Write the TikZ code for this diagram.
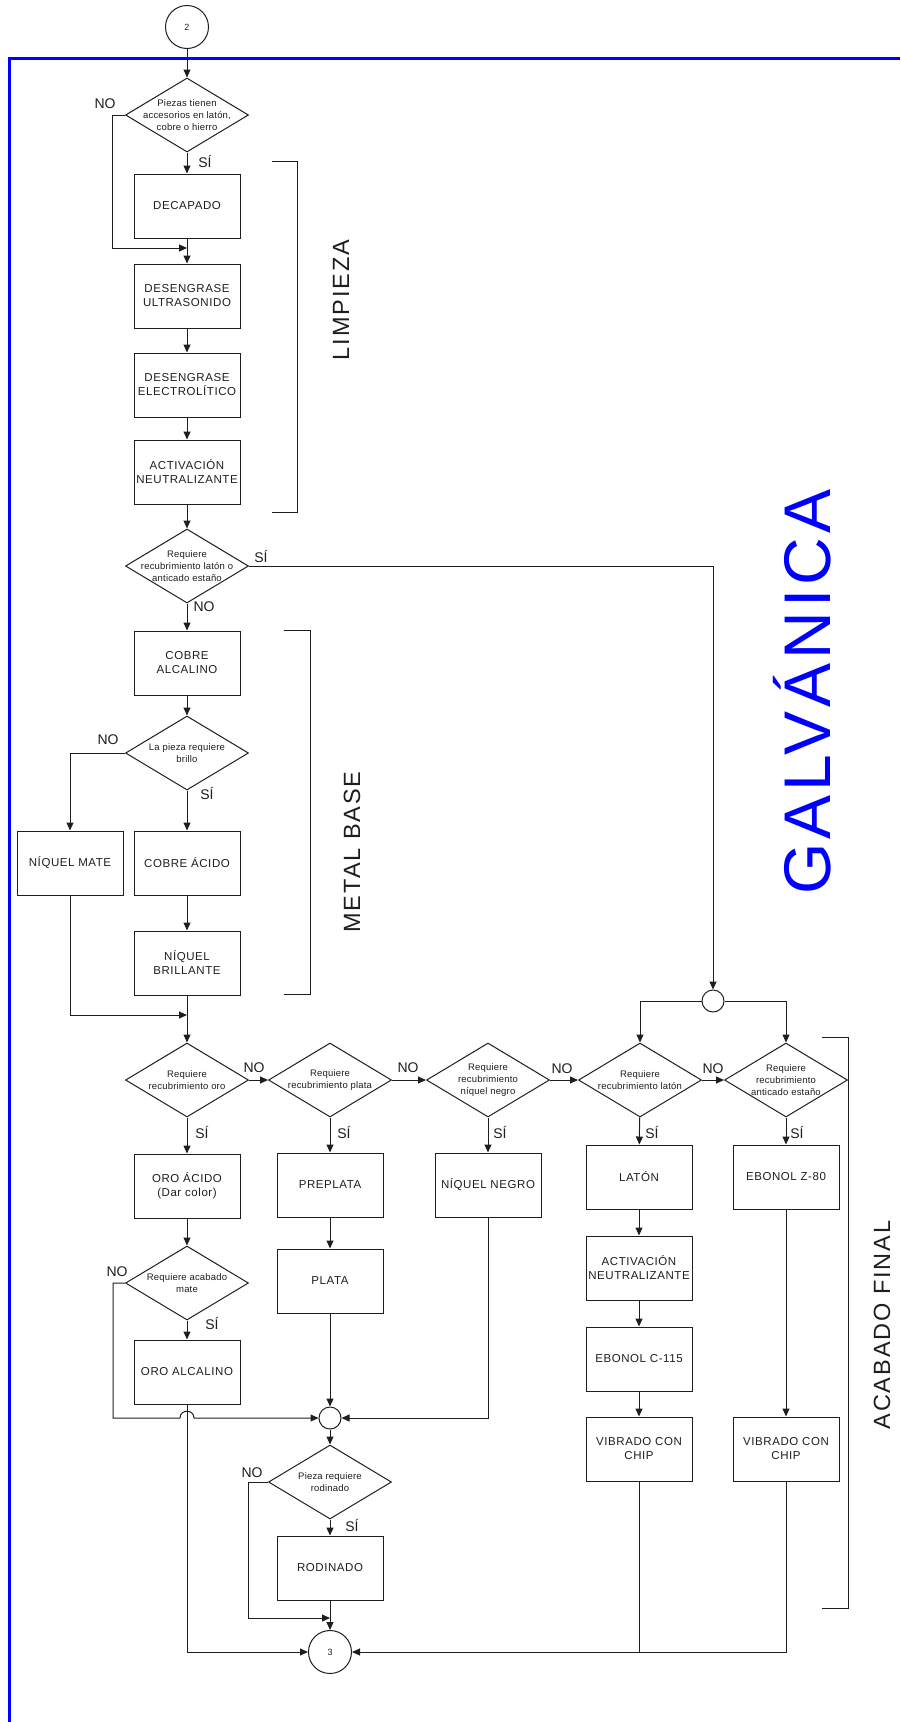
\documentclass[tikz,border=0pt]{standalone}
\usepackage{fontspec}
\setmainfont{Liberation Sans}
\newfontfamily\spc[LetterSpace=5]{Liberation Sans}
\newfontfamily\spd[LetterSpace=2]{Liberation Sans}
\newfontfamily\spt[LetterSpace=8]{Liberation Sans}
\newfontfamily\spg[LetterSpace=6]{Liberation Sans}
\usetikzlibrary{shapes.geometric,arrows.meta}
\definecolor{frameblue}{RGB}{0,0,255}
\definecolor{ink}{RGB}{30,30,30}
\begin{document}
\begin{tikzpicture}[x=1pt,y=-1pt,
  box/.style={draw=ink, line width=1pt, rectangle, minimum width=106pt, minimum height=64pt, inner sep=1pt, align=center, text=ink, font={\spc\fontsize{11.5}{14}\selectfont}},
  dia/.style={diamond, draw=ink, line width=1pt, minimum width=123pt, minimum height=74pt, inner sep=0pt},
  dtxt/.style={align=center, inner sep=0pt, text=ink, font={\spd\fontsize{9.5}{12}\selectfont}},
  lab/.style={inner sep=0pt, text=ink, font={\fontsize{14}{16}\selectfont}},
  conn/.style={circle, draw=ink, line width=1pt, minimum size=43pt, inner sep=0pt, text=ink, font={\fontsize{9}{10}\selectfont}},
  merge/.style={circle, draw=ink, line width=1pt, minimum size=22pt, inner sep=0pt},
  arr/.style={draw=ink, line width=1pt, -{Triangle[length=8pt,width=7pt]}},
  ln/.style={draw=ink, line width=1pt},
  sect/.style={rotate=90, inner sep=0pt, text=ink, font={\spt\fontsize{23.5}{26}\selectfont}},
  big/.style={rotate=90, inner sep=0pt, text=frameblue, font={\spg\fontsize{66}{70}\selectfont}}
]
\useasboundingbox (0,0) rectangle (900,1722);
% frame
\draw[frameblue, line width=3pt] (9,1722) -- (9,58) -- (900,58);
\node[big] (galv) at (802,692) {GALVÁNICA};

% nodes
\node[conn] (c2) at (187,27) {2};
\node[dia] (d1) at (187,115) {};
\node[dtxt] (d1t) at (d1) {Piezas tienen\\accesorios en latón,\\cobre o hierro};
\node[box] (dec) at (187,206) {DECAPADO};
\node[box] (deu) at (187,296) {DESENGRASE\\ULTRASONIDO};
\node[box] (dee) at (187,385) {DESENGRASE\\ELECTROLÍTICO};
\node[box] (act) at (187,472) {ACTIVACIÓN\\NEUTRALIZANTE};
\node[dia] (d2) at (187,566) {};
\node[dtxt] (d2t) at (d2) {Requiere\\recubrimiento latón o\\anticado estaño};
\node[box] (cal) at (187,663) {COBRE\\ALCALINO};
\node[dia] (d3) at (187,753) {};
\node[dtxt] (d3t) at (d3) {La pieza requiere\\brillo};
\node[box] (nm) at (70,863) {NÍQUEL MATE};
\node[box] (ca) at (187,863) {COBRE ÁCIDO};
\node[box] (nb) at (187,963) {NÍQUEL\\BRILLANTE};

\node[dia] (d4) at (187,1080) {};
\node[dtxt] (d4t) at (d4) {Requiere\\recubrimiento oro};
\node[dia] (d5) at (330,1080) {};
\node[dtxt] (d5t) at (d5) {Requiere\\recubrimiento plata};
\node[dia] (d6) at (488,1080) {};
\node[dtxt] (d6t) at (d6) {Requiere\\recubrimiento\\níquel negro};
\node[dia] (d9) at (640,1080) {};
\node[dtxt] (d9t) at (d9) {Requiere\\recubrimiento latón};
\node[dia] (d10) at (786,1080) {};
\node[dtxt] (d10t) at (d10) {Requiere\\recubrimiento\\anticado estaño};
\node[merge] (mc1) at (713,1001) {};

\node[box] (oa) at (187,1186) {ORO ÁCIDO\\(Dar color)};
\node[box] (pp) at (330,1185) {PREPLATA};
\node[box] (nn) at (488,1185) {NÍQUEL NEGRO};
\node[box] (lat) at (639,1177) {LATÓN};
\node[box] (ez) at (786,1177) {EBONOL Z-80};
\node[dia] (d7) at (187,1283) {};
\node[dtxt] (d7t) at (d7) {Requiere acabado\\mate};
\node[box] (pl) at (330,1281) {PLATA};
\node[box] (an2) at (639,1268) {ACTIVACIÓN\\NEUTRALIZANTE};
\node[box] (eb) at (639,1359) {EBONOL C-115};
\node[box] (ora) at (187,1372) {ORO ALCALINO};
\node[merge] (mc2) at (330,1418) {};
\node[box] (v1) at (639,1449) {VIBRADO CON\\CHIP};
\node[box] (v2) at (786,1449) {VIBRADO CON\\CHIP};
\node[dia] (d8) at (330,1482) {};
\node[dtxt] (d8t) at (d8) {Pieza requiere\\rodinado};
\node[box] (rod) at (330,1568) {RODINADO};
\node[conn] (c3) at (330,1652) {3};

% labels
\node[lab] (l1n) at (105,104) {NO};
\node[lab] (l1s) at (205,161) {SÍ};
\node[lab] (l2s) at (261,556) {SÍ};
\node[lab] (l2n) at (204,607) {NO};
\node[lab] (l3n) at (108,740) {NO};
\node[lab] (l3s) at (207,793) {SÍ};
\node[lab] (l4n) at (254,1068) {NO};
\node[lab] (l4s) at (202,1132) {SÍ};
\node[lab] (l5n) at (408,1068) {NO};
\node[lab] (l5s) at (344,1132) {SÍ};
\node[lab] (l6n) at (562,1069) {NO};
\node[lab] (l6s) at (500,1132) {SÍ};
\node[lab] (l9n) at (713,1069) {NO};
\node[lab] (l9s) at (652,1132) {SÍ};
\node[lab] (l10s) at (797,1132) {SÍ};
\node[lab] (l7n) at (117,1272) {NO};
\node[lab] (l7s) at (212,1323) {SÍ};
\node[lab] (l8n) at (252,1473) {NO};
\node[lab] (l8s) at (352,1525) {SÍ};

% section brackets and titles
\draw[ln] (272,161) -- (297,161) -- (297,512) -- (272,512);
\node[sect] (limp) at (341,300) {LIMPIEZA};
\draw[ln] (284,630) -- (310,630) -- (310,994) -- (284,994);
\node[sect] (mbase) at (352,852) {METAL BASE};
\draw[ln] (822,1037) -- (848,1037) -- (848,1608) -- (822,1608);
\node[sect] (acab) at (882,1325) {ACABADO FINAL};

% junction coordinates
\coordinate (j1) at (187,248);
\coordinate (j2) at (187,1015);
\coordinate (j3) at (330,1618);

% connectors
\draw[arr] (c2) -- (d1);
\draw[arr] (d1) -- (dec);
\draw[arr] (d1.west) -- (112,115) |- (j1);
\draw[arr] (dec) -- (deu);
\draw[arr] (deu) -- (dee);
\draw[arr] (dee) -- (act);
\draw[arr] (act) -- (d2);
\draw[arr] (d2.east) -| (mc1.north);
\draw[arr] (d2) -- (cal);
\draw[arr] (cal) -- (d3);
\draw[arr] (d3.west) -| (nm.north);
\draw[arr] (d3) -- (ca);
\draw[arr] (ca) -- (nb);
\draw[arr] (nm.south) |- (j2);
\draw[arr] (nb) -- (d4);
\draw[arr] (d4.east) -- (d5.west);
\draw[arr] (d5.east) -- (d6.west);
\draw[arr] (d6.east) -- (d9.west);
\draw[arr] (d9.east) -- (d10.west);
\draw[arr] (mc1.west) -| (d9.north);
\draw[arr] (mc1.east) -| (d10.north);
\draw[arr] (d4) -- (oa);
\draw[arr] (oa) -- (d7);
\draw[arr] (d7) -- (ora);
\draw[arr] (d7.west) -- (113,1283) -- (113,1418) -- (180,1418)
   .. controls (180,1409) and (194,1409) .. (194,1418) -- (mc2.west);
\draw[arr] (ora.south) |- (c3.west);
\draw[arr] (d5) -- (pp);
\draw[arr] (pp) -- (pl);
\draw[arr] (pl) -- (mc2);
\draw[arr] (d6) -- (nn);
\draw[arr] (nn.south) |- (mc2.east);
\draw[arr] (mc2) -- (d8);
\draw[arr] (d8.west) -- (248,1482) |- (j3);
\draw[arr] (d8) -- (rod);
\draw[arr] (rod) -- (c3);
\draw[arr] (d9) -- (lat);
\draw[arr] (lat) -- (an2);
\draw[arr] (an2) -- (eb);
\draw[arr] (eb) -- (v1);
\draw[arr] (d10) -- (ez);
\draw[arr] (ez) -- (v2);
\draw[arr] (v1.south) |- (c3.east);
\draw[ln] (v2.south) |- (v1.south |- c3.east);
\end{tikzpicture}
\end{document}
